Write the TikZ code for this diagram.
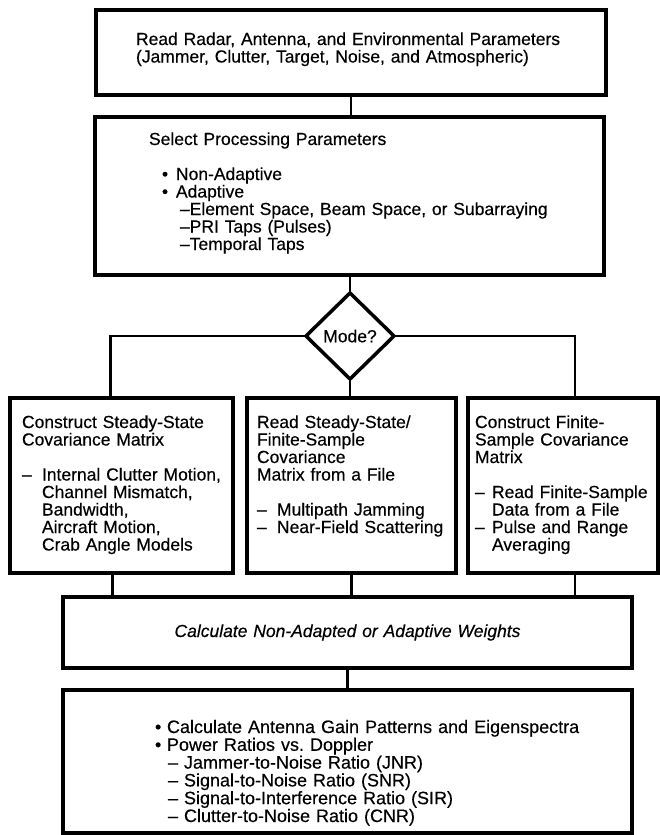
\documentclass[tikz,border=0pt]{standalone}
\usepackage{fontspec}
\setmainfont{Liberation Sans}[FakeBold=0.4]
\usetikzlibrary{shapes.geometric}

\newcommand{\itembul}[1]{\makebox[#1][l]{\textbullet}}
\newcommand{\itemdash}[1]{\makebox[#1][l]{--}}

\tikzset{
  box/.style = {draw, rectangle, line width=3.2pt, anchor=north west, outer sep=0pt,
    inner ysep=0pt, align=left, font=\fontsize{17.5}{17.5}\selectfont},
  lskip/.style = {execute at begin node={\leftskip=#1}},
  link/.style = {draw, line width=2.6pt}
}

\begin{document}
\begin{tikzpicture}[x=1pt, y=-1pt]
\useasboundingbox (0,0) rectangle (660,835);
\node[box, inner xsep=30pt, lskip=10pt, text width=450pt, text height=35pt, text depth=50pt] (radar) at (96,10)
  {Read Radar, Antenna, and Environmental Parameters\\(Jammer, Clutter, Target, Noise, and Atmospheric)};
\node[box, inner xsep=30pt, lskip=24pt, text width=449pt, text height=28pt, text depth=130pt] (select) at (95,117)
  {Select Processing Parameters\\[17.5pt]
   \hspace*{13pt}\itembul{14pt}Non-Adaptive\\
   \hspace*{13pt}\itembul{14pt}Adaptive\\
   \hspace*{31pt}--Element Space, Beam Space, or Subarraying\\
   \hspace*{31pt}--PRI Taps (Pulses)\\
   \hspace*{31pt}--Temporal Taps};
\node[diamond, draw, line width=3.5pt, outer sep=0pt, inner sep=0pt, minimum width=88pt, minimum height=86pt,
  font=\fontsize{17.5}{17.5}\selectfont] (mode) at (350,336) {Mode?};
\node[box, inner xsep=6pt, lskip=6pt, text width=211pt, text height=30pt, text depth=145pt] (steady) at (10,398)
  {Construct Steady-State\\Covariance Matrix\\[17.5pt]
   \itemdash{20pt}Internal Clutter Motion,\\
   \hspace*{20pt}Channel Mismatch,\\
   \hspace*{20pt}Bandwidth,\\
   \hspace*{20pt}Aircraft Motion,\\
   \hspace*{20pt}Crab Angle Models};
\node[box, inner xsep=5pt, lskip=5pt, text width=199pt, text height=30pt, text depth=145pt] (file) at (247,398)
  {Read Steady-State/\\Finite-Sample\\Covariance\\Matrix from a File\\[17.5pt]
   \itemdash{20pt}Multipath Jamming\\
   \itemdash{20pt}Near-Field Scattering};
\node[box, inner xsep=3pt, lskip=4pt, text width=184pt, text height=30pt, text depth=145pt] (finite) at (468,398)
  {Construct Finite-\\Sample Covariance\\Matrix\\[17.5pt]
   \itemdash{17pt}Read Finite-Sample\\
   \hspace*{17pt}Data from a File\\
   \itemdash{17pt}Pulse and Range\\
   \hspace*{17pt}Averaging};
\node[box, align=center, inner xsep=10pt, text width=549pt, text height=40pt, text depth=31pt] (weights) at (63,597)
  {\itshape Calculate Non-Adapted or Adaptive Weights};
\node[box, inner xsep=50pt, lskip=42pt, text width=469pt, text height=43pt, text depth=100pt,
  font=\fontsize{18}{17.8}\selectfont] (result) at (63,690)
  {\itembul{12pt}Calculate Antenna Gain Patterns and Eigenspectra\\
   \itembul{12pt}Power Ratios vs.\ Doppler\\
   \hspace*{13pt}-- Jammer-to-Noise Ratio (JNR)\\
   \hspace*{13pt}-- Signal-to-Noise Ratio (SNR)\\
   \hspace*{13pt}-- Signal-to-Interference Ratio (SIR)\\
   \hspace*{13pt}-- Clutter-to-Noise Ratio (CNR)};
% connectors
\draw[link] (radar.south) -- (radar.south |- select.north);
\draw[link] (mode.north |- select.south) -- (mode.north);
\draw[link] (mode.west) -| ([xshift=-11pt]steady.north);
\draw[link] (mode.east) -| ([xshift=12pt]finite.north);
\draw[link] (mode.south) -- (mode.south |- file.north);
\draw[link] ([xshift=-9pt]steady.south) -- ([xshift=-9pt]steady.south |- weights.north);
\draw[link] (file.south) -- (file.south |- weights.north);
\draw[link] ([xshift=12pt]finite.south) -- ([xshift=12pt]finite.south |- weights.north);
\draw[link] (weights.south) -- (weights.south |- result.north);
\end{tikzpicture}
\end{document}
